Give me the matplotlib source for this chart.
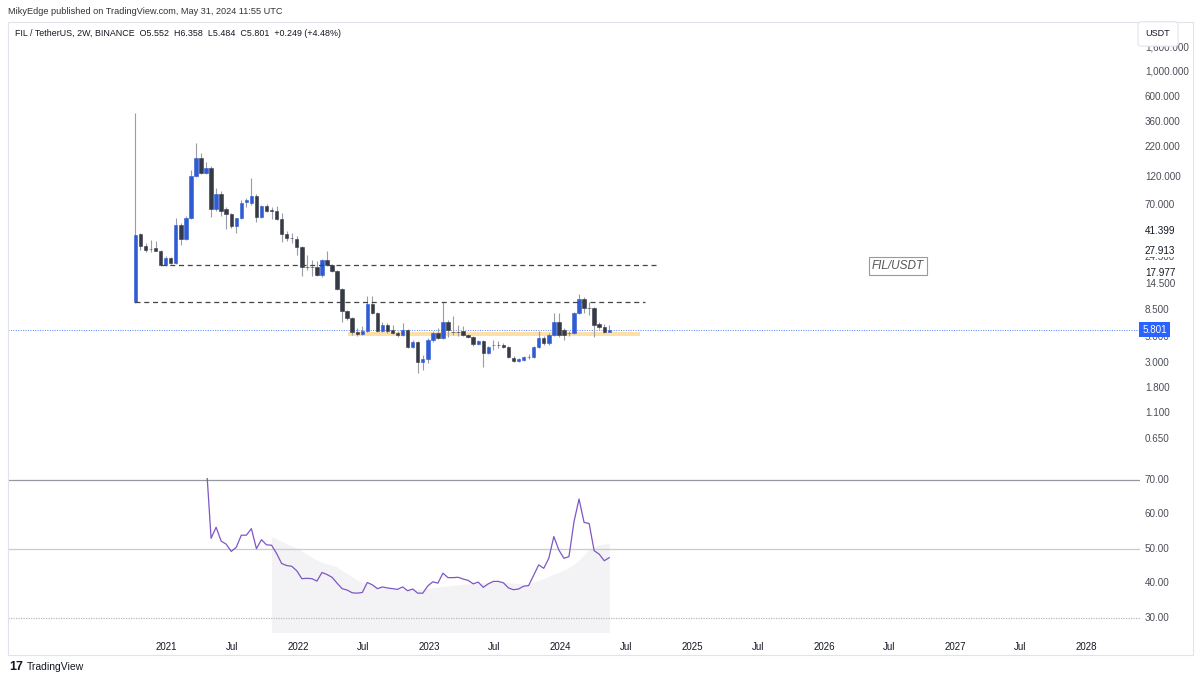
import matplotlib.pyplot as plt
import numpy as np
import pandas as pd
from matplotlib.patches import Rectangle

plt.rcParams['font.family'] = ['Liberation Sans', 'DejaVu Sans']

# FIL / TetherUS, 2W candles (Binance)
first_bar = "2020-10-07"

opens = [10.0, 38.9, 30.6, 28.6, 29.4, 27.7, 21.0, 24.1, 21.8, 46.5,
         35.2, 53.5, 123.5, 177, 131, 145, 64.0, 86.0, 64.0, 58.0,
         45.6, 53.5, 73.0, 72.0, 83.0, 54.6, 68.0, 62.5, 61.5, 52.4,
         38.9, 36.0, 35.2, 30.0, 20.3, 20.2, 20.2, 17.2, 23.2, 21.0,
         18.6, 13.0, 8.39, 7.30, 5.52, 5.31, 5.63, 9.65, 8.06, 5.63,
         6.35, 5.75, 5.41, 5.20, 5.75, 4.10, 4.52, 3.04, 3.23, 4.71,
         5.41, 4.90, 6.74, 5.55, 5.52, 5.63, 5.20, 5.00, 4.35, 4.62,
         3.64, 4.24, 4.26, 4.26, 4.10, 3.29, 3.10, 3.16, 3.36, 3.36,
         4.10, 4.90, 4.44, 5.20, 6.74, 5.75, 5.40, 5.41, 8.06, 10.66,
         8.95, 8.91, 6.48, 6.10, 5.552]
highs = [433, 39.7, 32.5, 34.5, 33.8, 28.3, 25.0, 24.8, 53.5, 48.4,
         56.0, 139, 238, 195, 163, 150, 97.0, 92.0, 66.6, 59.0,
         54.0, 76.0, 80.0, 119, 86.0, 70.0, 71.0, 66.6, 68.0, 59.0,
         41.0, 39.7, 37.5, 30.6, 25.5, 23.2, 22.5, 23.5, 27.7, 21.5,
         19.0, 13.3, 8.6, 7.5, 6.0, 6.2, 11.3, 11.3, 8.3, 6.8,
         6.6, 6.3, 5.6, 6.6, 5.9, 4.7, 4.6, 3.5, 4.9, 5.6,
         6.0, 10.0, 7.0, 7.6, 6.4, 6.2, 5.35, 5.1, 4.7, 4.7,
         4.2, 4.7, 4.6, 4.4, 4.2, 3.4, 3.3, 3.45, 3.55, 4.2,
         5.6, 5.1, 5.4, 8.06, 8.06, 6.0, 5.6, 8.3, 11.8, 11.2,
         10.0, 9.1, 6.8, 6.5, 6.358]
lows = [9.9, 28.3, 27.0, 27.2, 27.5, 20.6, 20.6, 21.5, 21.5, 31.3,
        34.5, 52.0, 120, 128, 128, 54.6, 62.0, 56.0, 43.0, 44.0,
        39.7, 52.0, 67.0, 70.0, 49.4, 53.0, 60.0, 52.4, 51.0, 33.2,
        34.0, 32.5, 25.5, 16.8, 18.9, 16.8, 16.8, 16.5, 20.6, 18.2,
        12.7, 6.74, 7.0, 5.20, 5.15, 5.2, 5.5, 7.9, 5.5, 5.5,
        5.4, 5.3, 5.0, 5.1, 4.0, 4.0, 2.44, 2.59, 3.0, 4.5,
        4.8, 4.8, 5.0, 5.2, 5.1, 5.1, 4.9, 4.2, 4.25, 2.75,
        3.55, 3.85, 4.0, 4.0, 3.3, 3.05, 3.02, 3.1, 3.2, 3.3,
        4.0, 4.3, 4.3, 5.1, 5.0, 4.71, 5.1, 5.3, 7.9, 8.06,
        7.7, 5.0, 5.9, 5.4, 5.484]
closes = [38.1, 30.6, 28.5, 28.8, 27.9, 21.0, 24.1, 21.8, 46.5, 35.2,
          53.5, 123.5, 177, 131, 145, 64.0, 86.0, 61.5, 58.0, 45.6,
          53.5, 72.0, 76.0, 83.0, 54.6, 68.0, 61.5, 62.0, 52.4, 38.9,
          35.9, 35.8, 30.0, 20.2, 20.2, 20.0, 17.2, 23.2, 21.0, 18.6,
          13.0, 8.39, 7.30, 5.52, 5.31, 5.63, 9.65, 8.06, 5.63, 6.35,
          5.63, 5.41, 5.20, 5.75, 4.10, 4.52, 3.04, 3.23, 4.71, 5.41,
          4.90, 6.74, 5.75, 5.52, 5.50, 5.20, 5.00, 4.35, 4.62, 3.64,
          4.10, 4.26, 4.24, 4.10, 3.36, 3.10, 3.23, 3.36, 3.38, 4.10,
          4.90, 4.44, 5.20, 6.74, 5.20, 5.20, 5.43, 8.06, 10.66, 8.91,
          8.91, 6.35, 6.10, 5.52, 5.801]

# RSI(14), from the 15th bar on
rsi = [76, 53.1, 56.3, 52.3, 51.4, 49.3, 50.5, 54.0, 54.0, 55.9,
       50.1, 52.7, 51.2, 51.1, 48.7, 45.8, 45.2, 45.0, 43.7, 41.4,
       41.5, 41.4, 40.7, 43.2, 42.6, 41.8, 40.1, 38.5, 38.1, 37.3,
       37.2, 37.4, 40.3, 39.6, 38.5, 39.0, 38.7, 38.5, 38.3, 39.0,
       37.9, 38.4, 37.2, 37.2, 39.3, 40.5, 40.1, 43.0, 41.7, 41.7,
       41.8, 41.3, 40.9, 39.9, 40.4, 38.9, 39.9, 40.6, 40.6, 40.2,
       38.7, 38.2, 38.4, 39.2, 39.4, 42.4, 45.4, 44.4, 47.3, 53.6,
       49.7, 47.3, 47.8, 57.9, 64.5, 57.7, 57.4, 49.5, 48.5, 46.6,
       47.5]
# RSI-based MA, from the 28th bar on
rsi_ma = [53.6, 52.9, 52.2, 51.5, 50.8, 50.2, 49.4, 48.5, 47.6, 46.8,
          46.2, 45.7, 45.3, 44.8, 43.8, 42.8, 41.9, 41.0, 40.4, 39.9,
          39.5, 39.1, 38.8, 38.6, 38.4, 38.3, 38.3, 38.3, 38.3, 38.3,
          38.4, 38.6, 38.8, 39.0, 39.2, 39.3, 39.5, 39.6, 39.8, 39.9,
          40.0, 40.1, 40.2, 40.2, 40.3, 40.4, 40.4, 40.3, 40.1, 40.0,
          39.8, 40.0, 40.4, 40.9, 41.5, 42.1, 42.7, 43.3, 43.9, 44.6,
          45.6, 46.8, 48.3, 49.9, 50.7, 51.2, 51.4, 51.6]

# drawings
support_levels = [10.0, 20.8]
support_start = ["2020-10-07", "2020-12-16"]
support_end = ["2024-08-22", "2024-09-25"]
zone_low, zone_high = 5.1, 5.55
zone_start, zone_end = "2022-05-20", "2024-08-09"

price_ticks = [1600, 1000, 600, 360, 220, 120, 70, 24.5, 14.5, 8.5, 5, 3, 1.8, 1.1, 0.65]
marked_prices = [41.399, 27.913, 17.977]
last_price = 5.801
year_ticks = ["2021", "Jul", "2022", "Jul", "2023", "Jul", "2024", "Jul",
              "2025", "Jul", "2026", "Jul", "2027", "Jul", "2028"]

UP = "#2f5bd3"
DOWN = "#363a45"
WICK = "#9a9da6"
TXT = "#4a4d57"

W, H = 1200, 681
fig = plt.figure(figsize=(12, 6.81), dpi=100)


def px(x, y):
    return x / W, 1 - y / H


ax = fig.add_axes([8 / W, 1 - 478 / H, 1132 / W, 456 / H])
ax2 = fig.add_axes([8 / W, 1 - 632 / H, 1132 / W, 154 / H], sharex=ax)

dates = pd.date_range(first_bar, periods=len(closes), freq="14D")
o, h, l, c = map(np.array, (opens, highs, lows, closes))
colors = np.where(c >= o, UP, DOWN)
lo = np.minimum(o, c)
hi = np.maximum(o, c)

ax.set_yscale("log")
ax.vlines(dates, l, h, color=WICK, lw=0.8, zorder=2)
ax.bar(dates, hi - lo, bottom=lo, width=9.5, color=colors, edgecolor=colors,
       linewidth=0.4, zorder=3)

for lvl, s, e in zip(support_levels, support_start, support_end):
    ax.hlines(lvl, pd.Timestamp(s), pd.Timestamp(e), color="#444444", lw=0.9,
              linestyles=(0, (4, 3)), zorder=4)
ax.fill_between([pd.Timestamp(zone_start), pd.Timestamp(zone_end)], zone_low, zone_high,
                color="#fddfa8", lw=0, zorder=1)
ax.axhline(last_price, color="#2962ff", ls=(0, (1, 1.5)), lw=0.7, alpha=0.8, zorder=1)

ax.set_ylim(0.3014, 2654)
ax.set_xlim(pd.Timestamp("2019-10-19"), pd.Timestamp("2028-05-28"))
for a in (ax, ax2):
    for s in a.spines.values():
        s.set_visible(False)
    a.set_yticks([])
    a.minorticks_off()
ax.set_yticks([], minor=True)
ax.tick_params(axis="x", length=0, labelbottom=False)

ytr = ax.get_yaxis_transform()
for p in price_ticks:
    ax.text(1.0044, p, f"{p:,.3f}", transform=ytr, va="center", ha="left",
            fontsize=7.1, color=TXT, clip_on=False, zorder=5)
for p in marked_prices:
    ax.text(1.0044, p, f"{p:,.3f}", transform=ytr, va="center", ha="left",
            fontsize=7.1, color="#131722", clip_on=False, zorder=6,
            bbox=dict(boxstyle="square,pad=0.15", fc="white", ec="none"))
ax.text(1.002, last_price, f"{last_price:.3f}", transform=ytr, va="center", ha="left",
        fontsize=7.1, color="white", clip_on=False, zorder=7,
        bbox=dict(boxstyle="square,pad=0.3", fc="#2962ff", ec="none"))

ax.text(0.786, 0.465, "FIL/USDT", transform=ax.transAxes, ha="center", va="center",
        fontsize=8.5, style="italic", color="#555555",
        bbox=dict(boxstyle="square,pad=0.25", fc="white", ec="#9a9a9a", lw=0.8))

# RSI pane
ax2.fill_between(dates[27:], rsi_ma, 0, color="#f3f3f5", lw=0, zorder=1)
ax2.axhline(70, color="#9598a1", lw=0.9, zorder=2)
ax2.axhline(50, color="#c9cbd1", lw=0.9, zorder=2)
ax2.axhline(30, color="#b8bbc3", lw=0.9, ls=(0, (1, 1)), zorder=2)
ax2.plot(dates[14:], rsi, color="#7e57c2", lw=0.9, zorder=3)
ax2.set_ylim(25.94, 70.58)
ytr2 = ax2.get_yaxis_transform()
for v in (70, 60, 50, 40, 30):
    ax2.text(1.0044, v, f"{v:.2f}", transform=ytr2, va="center", ha="left",
             fontsize=7.1, color=TXT, clip_on=False)

tick_dates = []
for yr in range(2021, 2029):
    tick_dates.append(pd.Timestamp(f"{yr}-01-01"))
    if yr < 2028:
        tick_dates.append(pd.Timestamp(f"{yr}-07-01"))
ax2.set_xticks(tick_dates)
ax2.set_xticklabels(year_ticks)
ax2.tick_params(axis="x", length=0, pad=7, labelsize=7, labelcolor="#131722")

# frame and header texts
fig.patches.append(Rectangle(px(8, 655), 1185 / W, 633 / H, transform=fig.transFigure,
                             fill=False, edgecolor="#e0e3eb", lw=0.8))
fig.text(*px(8, 11), "MikyEdge published on TradingView.com, May 31, 2024 11:55 UTC",
         fontsize=6.6, color="#333333", va="center")
fig.text(*px(15, 33), "FIL / TetherUS, 2W, BINANCE  O5.552  H6.358  L5.484  C5.801  +0.249 (+4.48%)",
         fontsize=6.4, color="#131722", va="center")
fig.text(*px(1158, 34), "USDT", fontsize=6.5, color="#131722", va="center", ha="center",
         zorder=10, bbox=dict(boxstyle="round,pad=0.85,rounding_size=0.3", fc="white",
                              ec="#e0e3eb", lw=0.8))
fig.text(*px(9, 667), "17", fontsize=9, weight="bold", color="#131722", va="center")
fig.text(*px(27, 667), "TradingView", fontsize=7.5, color="#131722", va="center")

fig.savefig("out.png", dpi=100)
